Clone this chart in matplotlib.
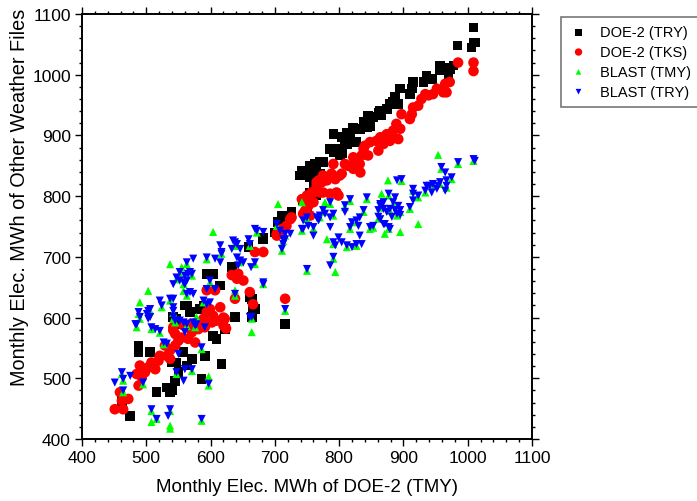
import numpy as np
import matplotlib.pyplot as plt
from matplotlib.ticker import MultipleLocator

plt.rcParams['font.family'] = ['Liberation Sans', 'DejaVu Sans']

# DOE-2 (TRY), black squares
doe_try = [
    (1009, 1078), (1010, 1053), (1006, 1045), (984, 1048), (1011, 1053),
    (965, 1012), (972, 1009), (957, 1007), (957, 1015), (978, 1015), (970, 1001),
    (944, 993), (936, 999), (931, 988), (915, 988), (913, 977), (910, 968),
    (895, 977), (887, 963), (884, 955), (892, 952), (879, 952), (874, 944),
    (864, 941), (866, 933), (861, 938), (853, 930), (848, 916), (845, 933),
    (838, 922), (843, 913), (832, 911), (822, 913), (812, 905), (817, 897),
    (804, 897), (809, 889), (791, 902), (786, 878), (791, 872), (801, 878),
    (801, 867), (812, 886), (827, 889), (817, 894), (796, 878), (804, 870),
    (775, 856), (770, 856), (762, 853), (755, 850), (760, 848), (765, 842),
    (770, 837), (744, 839), (739, 834), (755, 831), (742, 842), (752, 839),
    (760, 823), (760, 815), (755, 806), (765, 801), (750, 795), (760, 809),
    (744, 793), (750, 784), (726, 774), (713, 765), (708, 757), (711, 768),
    (726, 771), (705, 757), (700, 740), (708, 746),
    (682, 732), (682, 729), (659, 716), (633, 683), (594, 672), (604, 672),
    (615, 653), (661, 633), (669, 614), (666, 614), (664, 631), (638, 601),
    (664, 601), (584, 614), (589, 620), (563, 620), (568, 609), (560, 620),
    (542, 601), (547, 598), (552, 589), (716, 589), (609, 565), (604, 570),
    (622, 581), (617, 524), (591, 537), (571, 532), (563, 521), (547, 526),
    (550, 510), (558, 543), (540, 526), (506, 543), (488, 543), (488, 554),
    (516, 477), (537, 482), (537, 477), (545, 496), (532, 485), (540, 480),
    (586, 499), (475, 438), (462, 463), (601, 672),
]

# DOE-2 (TKS), red circles
doe_tks = [
    (985, 1020), (1009, 1020), (1009, 1006),
    (972, 988), (965, 985), (962, 971), (967, 971), (952, 977), (946, 968),
    (939, 966), (934, 968), (928, 960), (923, 949), (915, 946), (913, 935),
    (910, 927), (897, 935), (889, 919), (895, 911), (884, 908), (882, 902),
    (874, 902), (869, 897), (864, 897), (858, 891), (892, 894), (879, 891),
    (869, 886), (848, 889), (840, 883), (861, 875), (838, 878), (835, 867),
    (845, 867), (822, 864), (825, 856), (814, 850), (809, 853), (804, 837),
    (791, 853), (788, 837), (775, 834), (768, 826), (765, 817), (781, 826),
    (775, 806), (786, 804), (796, 806), (799, 801), (757, 806), (750, 801),
    (742, 795), (760, 790), (752, 784), (747, 776), (755, 768), (744, 771),
    (726, 765), (718, 751), (711, 746), (703, 735), (724, 762), (833, 839),
    (832, 853), (822, 845), (801, 834), (794, 828), (773, 823), (765, 823),
    (770, 806), (760, 806), (744, 795),
    (703, 738), (708, 741), (669, 708), (682, 708), (633, 670), (643, 672),
    (651, 661), (641, 664), (661, 642), (666, 622), (638, 631), (716, 631),
    (594, 645), (607, 645), (615, 617), (599, 614), (594, 609), (604, 603),
    (589, 598), (607, 595), (622, 598), (620, 587), (578, 592), (568, 589),
    (558, 587), (542, 584), (537, 532), (620, 600), (624, 582),
    (488, 488), (493, 502), (485, 507), (498, 510), (490, 521), (503, 518),
    (514, 515), (508, 526), (519, 529), (521, 537), (532, 537), (537, 546),
    (529, 554), (545, 554), (550, 562), (545, 573), (555, 567), (565, 565),
    (571, 576), (581, 581), (591, 584), (576, 559), (542, 579), (602, 592),
    (609, 595),
    (451, 449), (464, 449), (472, 466), (462, 463), (459, 477),
]

# BLAST (TMY), green up-triangles
blast_tmy = [
    (954, 868), (876, 826), (866, 804), (923, 754), (895, 741), (871, 738),
    (705, 787), (742, 790), (778, 790), (781, 729), (794, 675), (604, 741),
    (503, 644), (490, 625), (537, 688), (555, 683), (664, 576), (597, 503),
    (508, 428), (537, 422), (537, 417), (516, 433), (485, 584), (638, 645),
    (558, 644), (578, 601),
    (1009, 858), (985, 853), (959, 845), (975, 828), (957, 820), (967, 814),
    (946, 817), (934, 806), (923, 798), (915, 809), (910, 779), (897, 825),
    (877, 801), (884, 787), (864, 781), (879, 776), (895, 774), (890, 768),
    (861, 763), (853, 748), (877, 746), (817, 792), (843, 795), (786, 787),
    (809, 782), (864, 784), (775, 774), (770, 765), (791, 768), (838, 774),
    (827, 757), (817, 746), (848, 746), (750, 762), (742, 743), (760, 746),
    (703, 751), (716, 735), (713, 726), (711, 710), (791, 721), (812, 716),
    (827, 718), (791, 697), (750, 677), (638, 721), (661, 718), (672, 740),
    (669, 688), (682, 655), (664, 598), (716, 611), (617, 705), (641, 718),
    (594, 696), (563, 688), (646, 691), (552, 672), (547, 663), (558, 655),
    (571, 669), (563, 636), (599, 658), (537, 628), (524, 617), (542, 608),
    (506, 611), (589, 625), (638, 636), (542, 598), (563, 586), (488, 606),
    (490, 598), (508, 581), (521, 575), (545, 592), (576, 584), (527, 556),
    (586, 548), (547, 507), (571, 512), (462, 507), (464, 496), (495, 490),
    (464, 477), (508, 446), (537, 446), (586, 430), (597, 488),
]

# BLAST (TRY), blue down-triangles
blast_try = [
    (1009, 861), (1011, 858), (985, 856), (959, 848), (965, 839), (975, 831),
    (967, 826), (957, 823), (954, 817), (967, 817), (965, 809), (952, 812),
    (936, 817), (941, 817), (946, 820), (934, 809), (944, 806), (923, 801),
    (915, 812), (915, 804), (915, 793), (910, 782), (897, 828), (890, 826),
    (877, 804), (887, 798), (884, 790), (869, 790), (864, 784), (861, 777),
    (869, 779), (879, 779), (892, 784), (895, 777), (887, 777), (890, 771),
    (895, 769), (882, 766), (861, 766), (853, 751), (869, 754), (877, 749),
    (879, 746),
    (817, 795), (843, 798), (786, 790), (809, 785), (809, 774), (864, 787),
    (874, 774), (775, 777), (778, 771), (770, 768), (765, 765), (768, 760),
    (791, 771), (786, 765), (838, 777), (832, 765), (827, 760), (820, 757),
    (817, 749), (830, 751), (848, 749), (864, 762), (871, 754), (750, 765),
    (744, 760), (742, 746), (752, 751), (760, 749), (760, 735), (786, 749),
    (703, 754), (708, 743), (716, 738), (724, 738), (713, 729), (711, 713),
    (799, 732), (791, 724), (794, 719), (804, 724), (812, 719), (820, 716),
    (827, 721), (835, 721), (832, 735), (791, 700), (786, 686), (750, 680),
    (713, 721), (716, 729), (744, 746), (638, 724), (646, 713), (661, 721),
    (659, 729), (672, 743), (682, 741), (669, 746), (669, 691), (682, 658),
    (664, 601), (716, 614), (663, 683), (615, 719), (617, 708), (635, 727),
    (641, 721), (633, 713), (594, 699), (607, 697), (615, 691), (573, 697),
    (563, 691), (641, 699), (646, 694), (651, 691), (643, 686), (617, 705),
    (552, 675), (560, 669), (547, 666), (542, 655), (558, 658), (565, 672),
    (571, 672), (552, 661), (568, 675), (563, 661), (560, 655), (568, 642),
    (563, 639), (573, 639), (599, 661), (607, 647), (594, 647), (537, 631),
    (542, 631), (521, 628), (542, 617), (524, 620), (542, 611), (506, 614),
    (501, 606), (589, 628), (594, 622), (599, 625), (638, 639), (682, 655),
    (661, 601), (542, 601), (552, 595), (563, 589), (578, 589), (573, 592),
    (488, 609), (503, 611), (506, 601), (490, 601), (483, 589),
    (485, 589), (508, 584), (514, 581), (521, 578), (503, 598), (545, 595),
    (558, 592), (576, 587), (560, 576), (591, 584), (527, 559), (532, 557),
    (550, 540), (586, 551), (547, 510), (560, 515), (571, 515), (558, 496),
    (462, 510), (451, 493), (464, 499), (475, 504), (495, 493), (464, 480),
    (508, 449), (516, 433), (537, 449), (534, 438), (586, 433), (597, 491),
]

series = [
    ("DOE-2 (TRY)", doe_try, "s", "black", 48),
    ("DOE-2 (TKS)", doe_tks, "o", "red", 58),
    ("BLAST (TMY)", blast_tmy, "^", "#00ff00", 34),
    ("BLAST (TRY)", blast_try, "v", "blue", 34),
]

fig = plt.figure(figsize=(6.97, 5.02), dpi=100)
ax = fig.add_axes([82 / 697, 1 - 440 / 502, 450 / 697, 425 / 502])

for name, pts, mk, col, sz in series:
    arr = np.array(pts)
    ax.scatter(arr[:, 0], arr[:, 1], marker=mk, s=sz, c=col,
               edgecolors='none', label=name, zorder=3)

ax.set_xlim(400, 1100)
ax.set_ylim(400, 1100)
ax.xaxis.set_major_locator(MultipleLocator(100))
ax.yaxis.set_major_locator(MultipleLocator(100))
ax.xaxis.set_minor_locator(MultipleLocator(20))
ax.yaxis.set_minor_locator(MultipleLocator(20))
ax.tick_params(which='both', direction='out', top=True, right=True,
               width=1.0, labelsize=12.5, pad=3)
ax.tick_params(which='major', length=5)
ax.tick_params(which='minor', length=2.5)
for sp in ax.spines.values():
    sp.set_linewidth(1.4)

ax.set_xlabel("Monthly Elec. MWh of DOE-2 (TMY)", fontsize=13.5, labelpad=9)
ax.set_ylabel("Monthly Elec. MWh of Other Weather Files", fontsize=14.3)
ax.yaxis.set_label_coords(-0.118, 0.572)

leg = ax.legend(loc='upper left', bbox_to_anchor=(561 / 697, 1 - 18 / 502),
                bbox_transform=fig.transFigure, borderaxespad=0,
                fontsize=10.5, frameon=True, fancybox=False, markerscale=0.7,
                handlelength=1.3, handletextpad=0.8, labelspacing=0.4,
                borderpad=0.55)
leg.get_frame().set_edgecolor('#555555')
leg.get_frame().set_linewidth(1.2)

fig.savefig("out.png", dpi=100)
